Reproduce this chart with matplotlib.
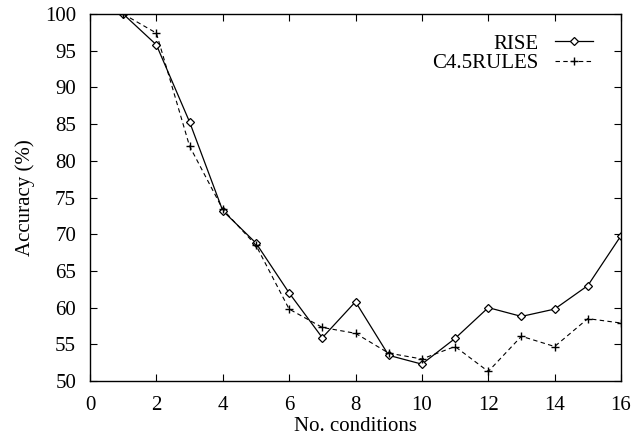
import matplotlib
matplotlib.use("Agg")
import matplotlib.pyplot as plt

plt.rcParams['font.family'] = ['Liberation Serif', 'DejaVu Serif']

conditions = [1, 2, 3, 4, 5, 6, 7, 8, 9, 10, 11, 12, 13, 14, 15, 16]
rise = [100, 95.8, 85.3, 73.2, 68.8, 62.0, 55.9, 60.8, 53.5, 52.3, 55.8, 60.0, 58.8, 59.8, 63.0, 69.8]
c45rules = [100, 97.4, 82.0, 73.4, 68.5, 59.8, 57.3, 56.5, 53.8, 53.0, 54.7, 51.3, 56.1, 54.7, 58.5, 57.9]
xticks = [0, 2, 4, 6, 8, 10, 12, 14, 16]
yticks = [50, 55, 60, 65, 70, 75, 80, 85, 90, 95, 100]

FS = 15

fig = plt.figure(figsize=(6.32, 4.36), dpi=100)
ax = fig.add_axes([0.1424, 0.1261, 0.8402, 0.8418])

ax.plot(conditions, rise, color='black', linestyle='-', linewidth=0.9,
        marker='D', markersize=4, markerfacecolor='white', markeredgecolor='black',
        markeredgewidth=0.9, label='RISE')
ax.plot(conditions, c45rules, color='black', linestyle=(0, (4, 3)), linewidth=0.8,
        marker='+', markersize=6, markeredgewidth=1.0, label='C4.5RULES')

ax.set_xlim(0, 16)
ax.set_ylim(50, 100)
ax.set_xticks(xticks)
ax.set_yticks(yticks)
ax.tick_params(direction='in', length=5, width=0.8, top=True, right=True, labelsize=FS)
ax.tick_params(axis='y', pad=10)
ax.tick_params(axis='x', pad=10.5)
for s in ax.spines.values():
    s.set_linewidth(1.0)

ax.set_xlabel('No. conditions', fontsize=FS, labelpad=1.5)
ax.set_ylabel('Accuracy (%)', fontsize=FS, labelpad=7)

ax.legend(loc='upper right', frameon=False, markerfirst=False, fontsize=FS,
          handlelength=1.83, handletextpad=0.8, labelspacing=0.0,
          borderpad=0.3, borderaxespad=0.3,
          bbox_to_anchor=(0.9706, 0.9795))

fig.savefig('out.png', dpi=100)
